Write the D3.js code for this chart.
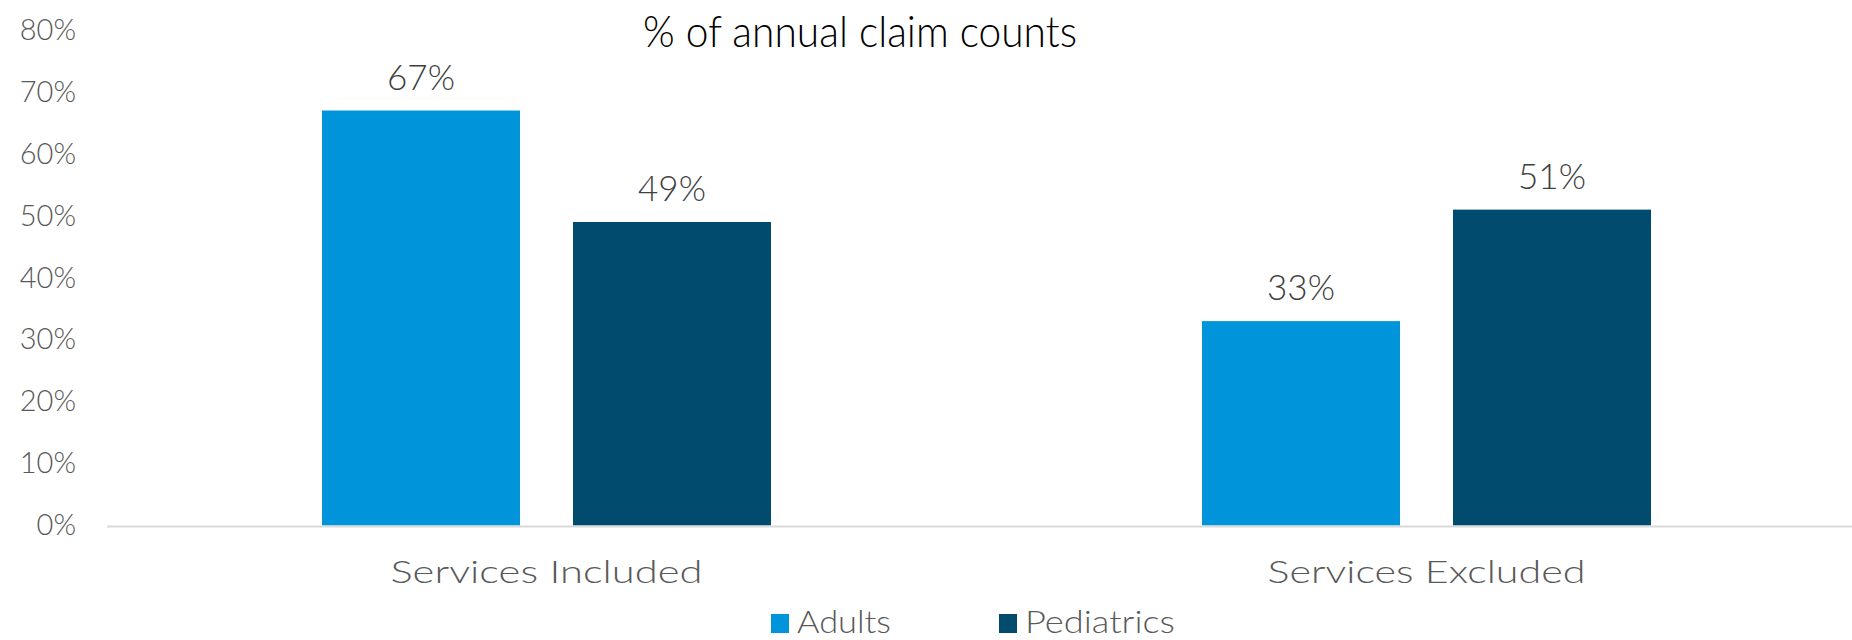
<!DOCTYPE html>
<html>
<head>
<meta charset="utf-8">
<script src="https://cdn.jsdelivr.net/npm/d3@7"></script>
<style>
  html, body { margin: 0; padding: 0; background: #fff; }
  svg { display: block; }
  text { font-family: Lato, "Open Sans", sans-serif; font-weight: 300; }
</style>
</head>
<body>
<svg id="chart" width="1852" height="640"></svg>
<script>
const categories = ["Services Included", "Services Excluded"];
const seriesNames = ["Adults", "Pediatrics"];
const adults = [0.67, 0.33];
const pediatrics = [0.49, 0.51];
const yTicks = [0, 0.1, 0.2, 0.3, 0.4, 0.5, 0.6, 0.7, 0.8];
const title = "% of annual claim counts";

const colors = { Adults: "#0095DA", Pediatrics: "#004B6E" };
const seriesValues = { Adults: adults, Pediatrics: pediatrics };

const svg = d3.select("#chart");
const W = 1852, H = 640;

const y = d3.scaleLinear().domain([0, 0.8]).range([525.5, 30]);
const x0 = d3.scaleBand().domain(categories).range([106.5, 1866.5]).padding(0);
const x1 = d3.scaleBand().domain(seriesNames).range([215.5, 664.5]).paddingInner(0.211).paddingOuter(0);

// Title
svg.append("text")
  .attr("x", 860).attr("y", 47)
  .attr("text-anchor", "middle")
  .attr("font-size", 44)
  .attr("fill", "#000")
  .attr("textLength", 434).attr("lengthAdjust", "spacingAndGlyphs")
  .text(title);

// Y axis tick labels
const yAxis = d3.axisLeft(y).tickValues(yTicks).tickFormat(d3.format(".0%")).tickSize(0).tickPadding(0);
const gy = svg.append("g").attr("transform", "translate(76,0)").call(yAxis);
gy.select(".domain").remove();
gy.selectAll("text")
  .attr("font-size", 29)
  .attr("fill", "#595959")
  .attr("font-weight", 300)
  .attr("font-family", "Lato, 'Open Sans', sans-serif");

// Bars
const groups = svg.append("g").selectAll("g")
  .data(categories)
  .join("g")
  .attr("transform", d => `translate(${x0(d)},0)`);

groups.selectAll("rect")
  .data((c, i) => seriesNames.map(s => ({ s, v: seriesValues[s][i] })))
  .join("rect")
  .attr("x", d => x1(d.s))
  .attr("width", x1.bandwidth())
  .attr("y", d => y(d.v))
  .attr("height", d => y(0) - y(d.v))
  .attr("fill", d => colors[d.s]);

groups.selectAll("text.val")
  .data((c, i) => seriesNames.map(s => ({ s, v: seriesValues[s][i] })))
  .join("text")
  .attr("class", "val")
  .attr("x", d => x1(d.s) + x1.bandwidth() / 2)
  .attr("y", d => y(d.v) - 21)
  .attr("text-anchor", "middle")
  .attr("font-size", 35)
  .attr("fill", "#404040")
  .text(d => d3.format(".0%")(d.v));

// X axis line
svg.append("line")
  .attr("x1", 107).attr("x2", W)
  .attr("y1", y(0) + 1).attr("y2", y(0) + 1)
  .attr("stroke", "#d9d9d9").attr("stroke-width", 2);

// Category labels
const catWidths = [312, 318];
svg.append("g").selectAll("text")
  .data(categories)
  .join("text")
  .attr("x", d => x0(d) + x0.bandwidth() / 2)
  .attr("y", 583)
  .attr("text-anchor", "middle")
  .attr("font-size", 32)
  .attr("fill", "#595959")
  .attr("textLength", (d, i) => catWidths[i]).attr("lengthAdjust", "spacingAndGlyphs")
  .text(d => d);

// Legend
const legendX = [771, 999];
const legendW = [94, 150];
const lg = svg.append("g").selectAll("g")
  .data(seriesNames)
  .join("g")
  .attr("transform", (d, i) => `translate(${legendX[i]},0)`);
lg.append("rect")
  .attr("x", 0).attr("y", 614).attr("width", 18).attr("height", 19)
  .attr("fill", d => colors[d]);
lg.append("text")
  .attr("x", 26).attr("y", 633)
  .attr("font-size", 31)
  .attr("fill", "#595959")
  .attr("textLength", (d, i) => legendW[i]).attr("lengthAdjust", "spacingAndGlyphs")
  .text(d => d);
</script>
</body>
</html>
